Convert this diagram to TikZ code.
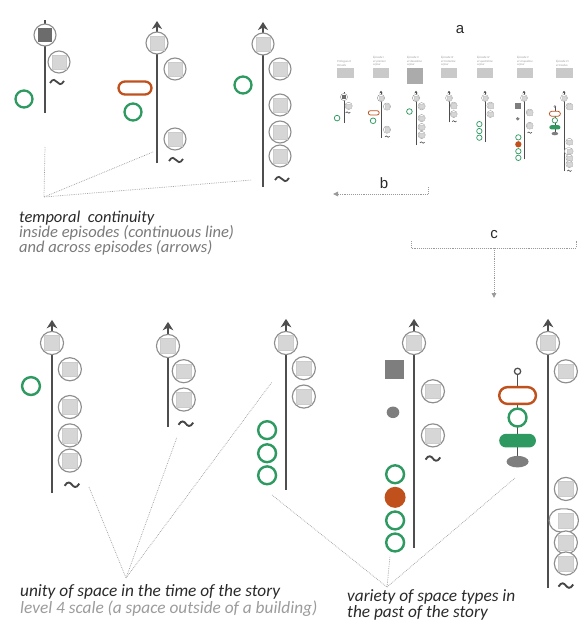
\documentclass[tikz,border=0pt]{standalone}
\usepackage{fontspec}
\setmainfont{Carlito}
\newfontfamily\letterfont{Liberation Sans}
\usetikzlibrary{arrows.meta}

\definecolor{axisgray}{HTML}{4E4E4E}
\definecolor{ringgray}{HTML}{8E8E8E}
\definecolor{boxgray}{HTML}{D6D6D6}
\definecolor{darkbox}{HTML}{6C6C6C}
\definecolor{spacegreen}{HTML}{2E9A62}
\definecolor{rust}{HTML}{C0501C}
\definecolor{dotgray}{HTML}{7E7E7E}
\definecolor{leadgray}{HTML}{9A9A9A}
\definecolor{textdark}{HTML}{2A2A2A}
\definecolor{textmid}{HTML}{7A7A7A}
\definecolor{textlight}{HTML}{9C9C9C}
\definecolor{thumbbox}{HTML}{C9C9C9}

% line-width factor and arrow size for the current episode scale
\newcommand\setlw[1]{\def\lw{#1}%
  \pgfmathsetmacro\alen{8*#1}\pgfmathsetmacro\awid{10*#1}\pgfmathsetmacro\ains{2.5*#1}}
\setlw{1}

\tikzset{
  axis/.style={draw=axisgray, line width=\lw*2.8pt},
  axisarrow/.style={axis, -{Stealth[length=\alen pt, width=\awid pt, inset=\ains pt]}},
  ring/.style={draw=ringgray, fill=white, line width=\lw*1.1pt},
  innerbox/.style={fill=boxgray, draw=black!20, line width=\lw*0.4pt},
  greenring/.style={draw=spacegreen, fill=white, line width=\lw*2.3pt},
  rustring/.style={draw=rust, fill=white, line width=\lw*2.3pt},
  squig/.style={draw=axisgray!90!black, line width=\lw*1.8pt},
  stem/.style={draw=axisgray, line width=\lw*1.5pt},
  lead/.style={draw=leadgray, line width=0.7pt, dash pattern=on 0.7pt off 1.1pt},
  guide/.style={draw=leadgray, line width=0.9pt, dash pattern=on 0.9pt off 1pt},
  annot/.style={font=\fontsize{16.5}{18}\selectfont\itshape, anchor=base west, inner sep=0pt},
  bigannot/.style={font=\fontsize{17.3}{19}\selectfont\itshape, anchor=base west, inner sep=0pt},
  letter/.style={font=\letterfont\fontsize{15}{17}\selectfont, text=textdark, inner sep=0pt},
  caption/.style={font=\fontsize{3}{3.6}\selectfont\itshape, text=textlight, align=left,
    anchor=south west, inner sep=0pt},
}

% a place: grey circle holding a light square
\newcommand\place[2]{%
  \draw[ring] (#1,#2) circle (11);
  \path[innerbox] ({#1-7},{#2-7}) rectangle ({#1+7},{#2+7});}
% the first place of the prologue, with a dark square
\newcommand\darkplace[2]{%
  \draw[ring] (#1,#2) circle (11);
  \fill[darkbox] ({#1-7},{#2-7}) rectangle ({#1+7},{#2+7});}
\newcommand\greenring[2]{\draw[greenring] (#1,#2) circle (8.5);}
\newcommand\squiggle[2]{%
  \draw[squig] ({#1-7},{#2-1}) .. controls ({#1-4},{#2+4}) and ({#1-1.5},{#2+2}) .. (#1,#2)
     .. controls ({#1+1.5},{#2-2}) and ({#1+4},{#2-4}) .. ({#1+7},{#2+1});}
% stadium shape: style, centre x, centre y, width, height
\newcommand\pill[5]{%
  \path[#1] ({#2-#4/2+#5/2},{#3+#5/2}) -- ({#2+#4/2-#5/2},{#3+#5/2})
    arc[start angle=90, end angle=-90, radius=#5/2]
    -- ({#2-#4/2+#5/2},{#3-#5/2})
    arc[start angle=270, end angle=90, radius=#5/2] -- cycle;}

% ---- episodes, drawn around the first place at (0,0) ----
\newcommand\epA{%
  \draw[axis] (0,-78) -- (0,15);
  \darkplace{0}{0}
  \place{14}{-27}
  \squiggle{12}{-47}
  \greenring{-21}{-64}}
\newcommand\epB{%
  \draw[axisarrow] (0,-120) -- (0,22);
  \place{0}{0}
  \place{18}{-26}
  \pill{rustring}{-22}{-45}{33}{13}
  \greenring{-24}{-69}
  \place{18}{-96}
  \squiggle{19}{-117}}
\newcommand\epC{%
  \draw[axisarrow] (0,-143) -- (0,22);
  \place{0}{0}
  \place{17}{-25}
  \place{17}{-61}
  \place{17}{-88}
  \place{17}{-112}
  \squiggle{19}{-135}
  \greenring{-20}{-41}}
\newcommand\epD{%
  \draw[axisarrow] (0,-77) -- (0,23);
  \place{0}{0}
  \place{15}{-24}
  \place{15}{-51}
  \squiggle{17}{-74}}
\newcommand\epE{%
  \draw[axisarrow] (0,-140) -- (0,23);
  \place{0}{0}
  \place{17}{-24}
  \place{17}{-51}
  \greenring{-18}{-83}
  \greenring{-18}{-105}
  \greenring{-18}{-126}}
\newcommand\epF{%
  \draw[axisarrow] (0,-195) -- (0,23);
  \place{0}{0}
  \place{18}{-46}
  \place{18}{-88}
  \squiggle{18}{-110}
  \fill[dotgray] (-28,-34) rectangle (-10,-16);
  \fill[dotgray] (-20,-66) ellipse [x radius=6, y radius=5.5];
  \greenring{-18}{-125}
  \fill[rust] (-18,-147) circle (10);
  \greenring{-18}{-169}
  \greenring{-18}{-190}}
\newcommand\epG{%
  \draw[axisarrow] (0,-233) -- (0,23);
  \place{0}{0}
  \place{17}{-27}
  \draw[stem] (-29,-27) -- (-29,-113);
  \draw[stem, fill=white, line width=\lw*1.2pt] (-29,-27) circle (3);
  \pill{rustring}{-29}{-50}{35}{16}
  \greenring{-29}{-71}
  \pill{fill=spacegreen}{-29}{-93}{35}{13}
  \fill[dotgray] (-29,-113) ellipse [x radius=10.5, y radius=5.5];
  \place{17}{-139}
  \pill{ring}{15}{-169}{28}{22}
  \path[innerbox] (10,-176) rectangle (24,-162);
  \place{17}{-190}
  \place{17}{-210}
  \squiggle{17}{-231}}

\begin{document}
\begin{tikzpicture}[x=1pt, y=1pt]
\fill[white] (0,0) rectangle (578,-623);
\useasboundingbox (0,0) rectangle (578,-623);

% ---- top row: the first three episodes ----
\begin{scope}[shift={(45,-35)}]\setlw{1}\epA\end{scope}
\begin{scope}[shift={(157,-43)}]\setlw{1}\epB\end{scope}
\begin{scope}[shift={(263,-44)}]\setlw{1}\epC\end{scope}

% ---- overview strip of all seven episodes ----
\node[letter] (a) at (460,-30) {a};
\foreach \x/\w/\h/\c/\t in {
    337/17/10/thumbbox/{Prologue et\\Paradis},
    373/16/10/thumbbox/{Épisode I\\et premier\\séjour},
    407/16/16/black!33/{Épisode II\\et deuxième\\séjour},
    441/16/10/thumbbox/{Épisode III\\et troisième\\séjour},
    477/16/10/thumbbox/{Épisode IV\\et quatrième\\séjour},
    517/16/10/thumbbox/{Épisode V\\et cinquième\\séjour},
    556/17/10/thumbbox/{Épisode VI\\et Exodus}} {
  \fill[\c] (\x,-68) rectangle ++(\w,-\h);
  \node[caption] at (\x,-66.5) {\t};
}
\begin{scope}[shift={(344,-97)}, scale=0.33]\setlw{0.33}\epA\end{scope}
\begin{scope}[shift={(381,-98)}, scale=0.33]\setlw{0.33}\epB\end{scope}
\begin{scope}[shift={(416,-98)}, scale=0.33]\setlw{0.33}\epC\end{scope}
\begin{scope}[shift={(449,-98)}, scale=0.315]\setlw{0.315}\epD\end{scope}
\begin{scope}[shift={(485,-98)}, scale=0.315]\setlw{0.315}\epE\end{scope}
\begin{scope}[shift={(524,-98)}, scale=0.315]\setlw{0.315}\epF\end{scope}
\begin{scope}[shift={(564,-98)}, scale=0.315]\setlw{0.315}\epG\end{scope}

% ---- guide arrows b and c ----
\node[letter] (b) at (384,-183) {b};
\coordinate (bR) at (428,-194);
\coordinate (bL) at (333,-194);
\draw[guide] (428,-187) -- (bR);
\draw[guide, -{Triangle[length=5pt, width=4.5pt]}] (bR) -- (bL);

\node[letter] (c) at (494,-235) {c};
\coordinate (cL) at (411,-248);
\coordinate (cR) at (576,-248);
\coordinate (cM) at (494,-248);
\coordinate (cD) at (494,-298);
\draw[guide] (411,-241) -- (cL) -- (cR) -- (576,-241);
\draw[guide, -{Triangle[length=5pt, width=4.5pt]}] (cM) -- (cD);

% ---- bottom row: episodes enlarged ----
\begin{scope}[shift={(52,-343)}, scale=1.05]\setlw{1.05}\epC\end{scope}
\begin{scope}[shift={(168,-346)}, scale=1.05]\setlw{1.05}\epD\end{scope}
\begin{scope}[shift={(286,-343)}, scale=1.05]\setlw{1.05}\epE\end{scope}
\begin{scope}[shift={(414,-343)}, scale=1.05]\setlw{1.05}\epF\end{scope}
\begin{scope}[shift={(548,-343)}, scale=1.05]\setlw{1.05}\epG\end{scope}

% ---- annotations with their leader lines ----
\coordinate (tApex) at (44,-197);
\coordinate (t1) at (45,-147);
\coordinate (t2) at (153,-152);
\coordinate (t3) at (252,-180);
\draw[lead] (t1) -- (tApex) -- (t2);
\draw[lead] (tApex) -- (t3);
\node[annot, text=textdark] (tc1) at (19,-222) {temporal\ \ continuity};
\node[annot, text=textmid] (tc2) at (19,-237) {inside episodes (continuous line)};
\node[annot, text=textmid] (tc3) at (19,-252) {and across episodes (arrows)};

\coordinate (uApex) at (126,-578);
\coordinate (u1) at (89,-487);
\coordinate (u2) at (177,-437);
\coordinate (u3) at (272,-382);
\draw[lead] (u1) -- (uApex) -- (u2);
\draw[lead] (uApex) -- (u3);
\node[bigannot, text=textdark] (us1) at (20,-596) {unity of space in the time of the story};
\node[bigannot, text=textlight] (us2) at (20,-613) {level 4 scale (a space outside of a building)};

\coordinate (vApex) at (387,-587);
\coordinate (v1) at (272,-495);
\coordinate (v2) at (390,-556);
\coordinate (v3) at (515,-478);
\draw[lead] (v1) -- (vApex) -- (v2);
\draw[lead] (vApex) -- (v3);
\node[bigannot, text=textdark] (vs1) at (347,-601) {variety of space types in};
\node[bigannot, text=textdark] (vs2) at (347,-617) {the past of the story};
\end{tikzpicture}
\end{document}
